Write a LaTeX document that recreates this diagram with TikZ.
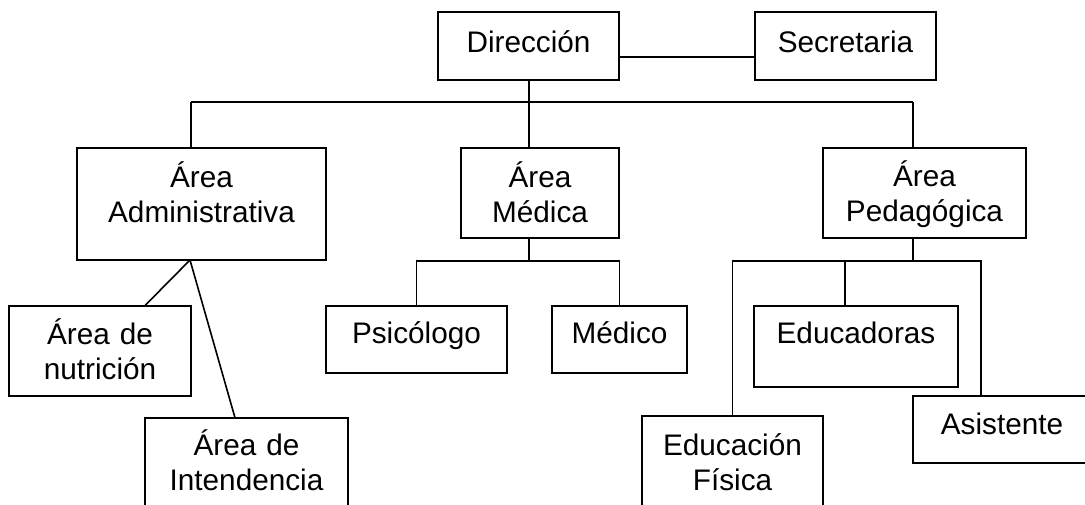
\documentclass[tikz,border=0pt]{standalone}
\usepackage{fontspec}
\setmainfont{Liberation Sans}
\usetikzlibrary{fit,calc}
\tikzset{
  box/.style={draw=black, line width=1.2pt, inner sep=0pt, rectangle},
  conn/.style={draw=black, line width=1.2pt},
  txt/.style={anchor=base, inner sep=0pt, text width=8cm, align=center,
    font=\fontsize{22.3pt}{26.25pt}\selectfont}
}
\begin{document}
\begin{tikzpicture}[x=0.75pt, y=-0.75pt]
\useasboundingbox[fill=white] (0,0) rectangle (1085,504);
% boxes
\node[box, fit={(438,12) (619,80)}] (dir) {};
\node[box, fit={(755,12) (936,80)}] (sec) {};
\node[box, fit={(77,148) (326,260)}] (adm) {};
\node[box, fit={(461,148) (619,238)}] (med) {};
\node[box, fit={(823,148) (1026,238)}] (ped) {};
\node[box, fit={(9,306) (191,396)}] (nut) {};
\node[box, fit={(145,418) (348,520)}] (int) {};
\node[box, fit={(326,306) (507,373)}] (psi) {};
\node[box, fit={(552,306) (687,373)}] (mdc) {};
\node[box, fit={(754,306) (958,387)}] (edu) {};
\node[box, fit={(642,416) (823,520)}] (efi) {};
\node[box, fit={(913,396) (1091,463)}] (asi) {};
% texts
\node[txt] (tdir) at (528.5,52) {Dirección};
\node[txt] (tsec) at (845.5,52) {Secretaria};
\node[txt] (tadm) at (201.5,187) {Área\\Administrativa};
\node[txt] (tmed) at (540,187) {Área\\Médica};
\node[txt] (tped) at (924.5,186) {Área\\Pedagógica};
\node[txt] (tnut) at (100,344) {Área de\\nutrición};
\node[txt] (tint) at (246.5,455) {Área de\\Intendencia};
\node[txt] (tpsi) at (416.5,343) {Psicólogo};
\node[txt] (tmdc) at (619.5,343) {Médico};
\node[txt] (tedu) at (856,343) {Educadoras};
\node[txt] (tefi) at (732.5,455) {Educación\\Física};
\node[txt] (tasi) at (1002,434) {Asistente};
% connector coordinates
\coordinate (y57) at (0,57);
\coordinate (b1) at (191,102);
\coordinate (b2) at (913,102);
\coordinate (mj) at (529,261);
\coordinate (pj) at (913,261);
\coordinate (pr) at (981,261);
\coordinate (pe) at (845,261);
\coordinate (ap) at (190,260);
% connectors
\draw[conn] (dir.east |- y57) -- (sec.west |- y57);
\draw[conn] (b1) -- (b2);
\draw[conn] (mj |- dir.south) -- (mj |- med.north);
\draw[conn] (b1) -- (b1 |- adm.north);
\draw[conn] (b2) -- (b2 |- ped.north);
\draw[conn] (mj |- med.south) -- (mj);
\draw[conn] (psi.north) -- (psi.north |- mj) -- (mdc.north |- mj) -- (mdc.north);
\draw[conn] (pj |- ped.south) -- (pj);
\draw[conn] (efi.north) -- (efi.north |- pj) -- (pr) -- (pr |- asi.north);
\draw[conn] (pe) -- (pe |- edu.north);
\draw[conn] (ap) -- ($(nut.north west)!0.747!(nut.north east)$);
\draw[conn] (ap) -- ($(int.north west)!0.443!(int.north east)$);
\end{tikzpicture}
\end{document}
